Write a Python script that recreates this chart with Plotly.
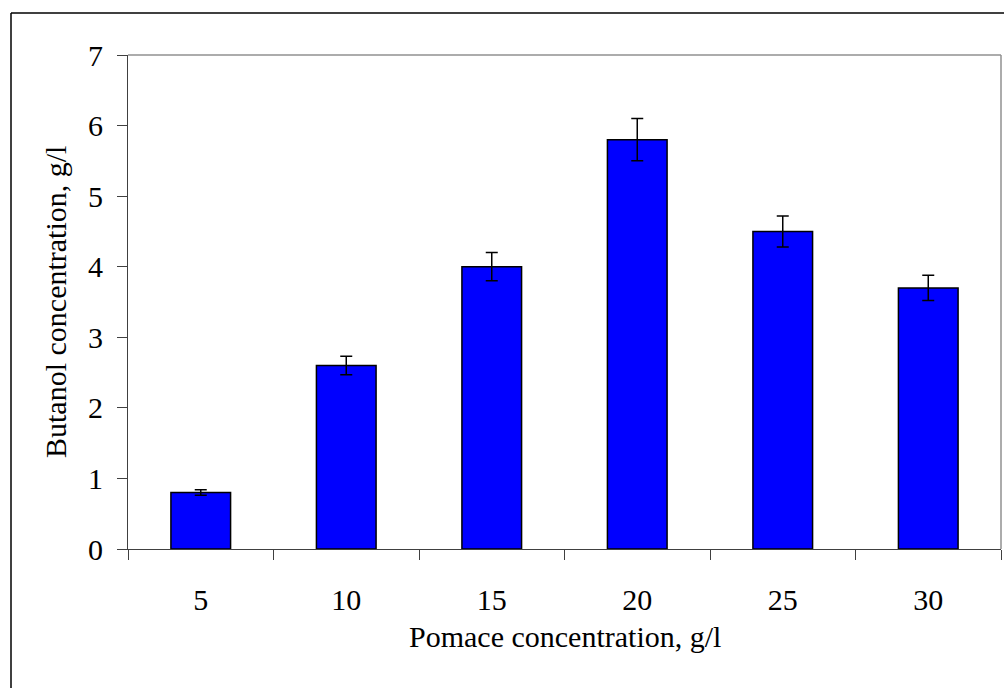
import plotly.graph_objects as go

# Data
pomace = ["5", "10", "15", "20", "25", "30"]
butanol = [0.8, 2.6, 4.0, 5.8, 4.5, 3.7]
butanol_err = [0.04, 0.13, 0.2, 0.3, 0.22, 0.18]
y_ticks = [0, 1, 2, 3, 4, 5, 6, 7]

W, H = 1004, 688
L, R, T, B = 128, 3, 55, 139
pw, ph = W - L - R, H - T - B

font_family = "Liberation Serif"
fsize = 30

fig = go.Figure(
    go.Bar(
        x=pomace,
        y=butanol,
        width=0.41,
        marker=dict(color="#0000FF", line=dict(color="#000000", width=1.5)),
        error_y=dict(type="data", array=butanol_err, visible=True,
                     color="#000000", thickness=1.5, width=6),
    )
)

def px_x(p):
    return (p - L) / pw

def px_y(p):
    return 1 - (p - T) / ph

fig.update_layout(
    width=W, height=H,
    margin=dict(l=L, r=R, t=T, b=B),
    paper_bgcolor="white", plot_bgcolor="white",
    showlegend=False,
    font=dict(family=font_family, size=fsize, color="#000000"),
    xaxis=dict(
        type="category",
        tickson="boundaries",
        ticks="outside", ticklen=10, tickwidth=1, tickcolor="#404040",
        showline=True, linecolor="#404040", linewidth=1,
        showgrid=False, zeroline=False,
        ticklabelstandoff=24,
        tickfont=dict(family=font_family, size=fsize),
    ),
    yaxis=dict(
        range=[0, 7],
        tickvals=y_ticks,
        ticks="outside", ticklen=10, tickwidth=1, tickcolor="#404040",
        showline=True, linecolor="#404040", linewidth=1,
        showgrid=False, zeroline=False,
        ticklabelstandoff=8,
        tickfont=dict(family=font_family, size=fsize),
    ),
    shapes=[
        # grey frame on top and right of plotting area
        dict(type="line", xref="paper", yref="paper", x0=0, x1=1, y0=1, y1=1,
             line=dict(color="#909090", width=1.5)),
        dict(type="line", xref="paper", yref="paper", x0=1, x1=1, y0=0, y1=1,
             line=dict(color="#909090", width=1.5)),
        # outer chart border (top and left edges)
        dict(type="line", xref="paper", yref="paper",
             x0=px_x(11), x1=px_x(W + 5), y0=px_y(13), y1=px_y(13),
             line=dict(color="#000000", width=1.5)),
        dict(type="line", xref="paper", yref="paper",
             x0=px_x(11), x1=px_x(11), y0=px_y(13), y1=px_y(H + 5),
             line=dict(color="#000000", width=1.5)),
    ],
    annotations=[
        dict(text="Pomace concentration, g/l", xref="paper", yref="paper",
             x=0.5, y=px_y(636), xanchor="center", yanchor="middle",
             showarrow=False, font=dict(family=font_family, size=fsize)),
        dict(text="Butanol concentration, g/l", xref="paper", yref="paper",
             x=px_x(55), y=0.5, xanchor="center", yanchor="middle",
             textangle=-90, showarrow=False,
             font=dict(family=font_family, size=fsize)),
    ],
)

fig.write_html("out.html")
